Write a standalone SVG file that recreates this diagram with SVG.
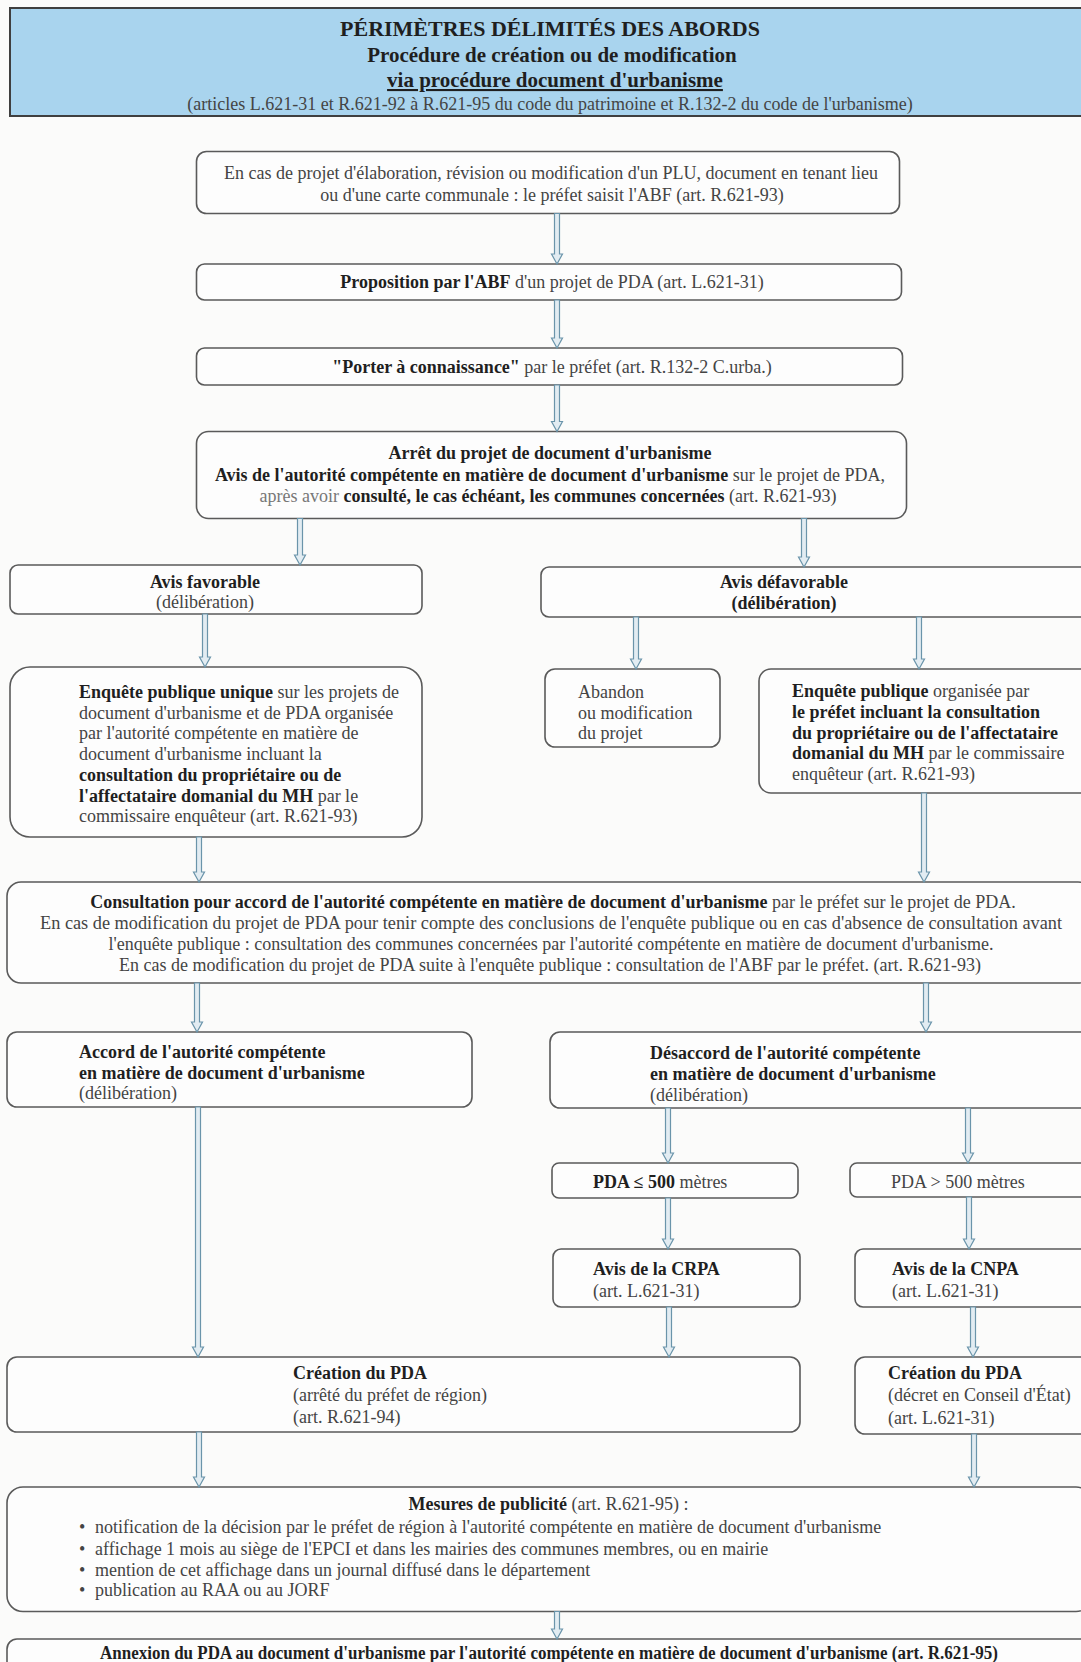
<svg xmlns="http://www.w3.org/2000/svg" width="1081" height="1662" viewBox="0 0 1081 1662">
<defs>
<style>
.bg{fill:#fbfbfa}
.box{fill:#fdfdfd;stroke:#5a5a5a;stroke-width:1.6}
.hdr{fill:#a9d4ee;stroke:#3f3f3f;stroke-width:2}
.t{font-family:"Liberation Serif","Times New Roman",serif;font-size:18px;fill:#444}
.b{font-weight:bold;fill:#1f1f1f}
.c{text-anchor:middle}
.h1{font-size:22px}
.h2{font-size:21px}
.arr{fill:#e2ecf2;stroke:#6a94aa;stroke-width:1.2}
</style>
</defs>
<rect class="bg" x="0" y="0" width="1081" height="1662"/>

<g id="header">
<rect class="hdr" x="10" y="8" width="1085" height="108"/>
<text class="t b c h1" x="550" y="36">PÉRIMÈTRES DÉLIMITÉS DES ABORDS</text>
<text class="t b c h2" x="552" y="62">Procédure de création ou de modification</text>
<text class="t b c h2" x="555" y="87" text-decoration="underline">via procédure document d'urbanisme</text>
<text class="t c" x="550" y="110">(articles L.621-31 et R.621-92 à R.621-95 du code du patrimoine et R.132-2 du code de l'urbanisme)</text>
</g>

<g id="saisine">
<rect class="box" x="196.5" y="151.5" width="703" height="62" rx="10"/>
<text class="t c" x="551" y="179">En cas de projet d'élaboration, révision ou modification d'un PLU, document en tenant lieu</text>
<text class="t c" x="552" y="201">ou d'une carte communale : le préfet saisit l'ABF (art. R.621-93)</text>
</g>

<g id="proposition">
<rect class="box" x="196.5" y="264" width="705" height="36" rx="8"/>
<text class="t c" x="552" y="288"><tspan class="b">Proposition par l'ABF</tspan> d'un projet de PDA (art. L.621-31)</text>
</g>

<g id="porter">
<rect class="box" x="196.5" y="348" width="706" height="37" rx="8"/>
<text class="t c" x="552" y="373"><tspan class="b">"Porter à connaissance"</tspan> par le préfet (art. R.132-2 C.urba.)</text>
</g>

<g id="arret">
<rect class="box" x="196.5" y="431.5" width="710" height="87" rx="12"/>
<text class="t b c" x="550" y="459">Arrêt du projet de document d'urbanisme</text>
<text class="t c" x="550" y="481"><tspan class="b">Avis de l'autorité compétente en matière de document d'urbanisme</tspan> sur le projet de PDA,</text>
<text class="t c" x="548" y="502"><tspan fill="#777">après avoir </tspan><tspan class="b">consulté, le cas échéant, les communes concernées</tspan> (art. R.621-93)</text>
</g>

<g id="avis-favorable">
<rect class="box" x="10" y="565" width="412" height="49" rx="8"/>
<text class="t b c" x="205" y="588">Avis favorable</text>
<text class="t c" x="205" y="608">(délibération)</text>
</g>

<g id="avis-defavorable">
<rect class="box" x="541" y="567" width="550" height="50" rx="8"/>
<text class="t b c" x="784" y="588">Avis défavorable</text>
<text class="t b c" x="784" y="609">(délibération)</text>
</g>

<g id="enquete-unique">
<rect class="box" x="10" y="667" width="412" height="170" rx="20"/>
<text class="t" x="79" y="698"><tspan class="b">Enquête publique unique</tspan> sur les projets de</text>
<text class="t" x="79" y="718.7">document d'urbanisme et de PDA organisée</text>
<text class="t" x="79" y="739.4">par l'autorité compétente en matière de</text>
<text class="t" x="79" y="760">document d'urbanisme incluant la</text>
<text class="t b" x="79" y="780.8">consultation du propriétaire ou de</text>
<text class="t" x="79" y="801.5"><tspan class="b">l'affectataire domanial du MH</tspan> par le</text>
<text class="t" x="79" y="822.2">commissaire enquêteur (art. R.621-93)</text>
</g>

<g id="abandon">
<rect class="box" x="545" y="669" width="175" height="78" rx="10"/>
<text class="t" x="578" y="698">Abandon</text>
<text class="t" x="578" y="718.5">ou modification</text>
<text class="t" x="578" y="739">du projet</text>
</g>

<g id="enquete-prefet">
<rect class="box" x="759" y="669" width="335" height="124" rx="12"/>
<text class="t" x="792" y="697"><tspan class="b">Enquête publique</tspan> organisée par</text>
<text class="t b" x="792" y="718">le préfet incluant la consultation</text>
<text class="t b" x="792" y="738.7">du propriétaire ou de l'affectataire</text>
<text class="t" x="792" y="759.4"><tspan class="b">domanial du MH</tspan> par le commissaire</text>
<text class="t" x="792" y="780">enquêteur (art. R.621-93)</text>
</g>

<g id="consultation">
<rect class="box" x="7" y="882" width="1085" height="101" rx="14"/>
<text class="t c" x="553" y="908"><tspan class="b">Consultation pour accord de l'autorité compétente en matière de document d'urbanisme</tspan> par le préfet sur le projet de PDA.</text>
<text class="t c" x="551" y="929" textLength="1022" lengthAdjust="spacingAndGlyphs">En cas de modification du projet de PDA pour tenir compte des conclusions de l'enquête publique ou en cas d'absence de consultation avant</text>
<text class="t c" x="551" y="950">l'enquête publique : consultation des communes concernées par l'autorité compétente en matière de document d'urbanisme.</text>
<text class="t c" x="550" y="971">En cas de modification du projet de PDA suite à l'enquête publique : consultation de l'ABF par le préfet. (art. R.621-93)</text>
</g>

<g id="accord">
<rect class="box" x="7" y="1032" width="465" height="75" rx="10"/>
<text class="t b" x="79" y="1058">Accord de l'autorité compétente</text>
<text class="t b" x="79" y="1078.5">en matière de document d'urbanisme</text>
<text class="t" x="79" y="1099">(délibération)</text>
</g>

<g id="desaccord">
<rect class="box" x="550" y="1032" width="545" height="76" rx="10"/>
<text class="t b" x="650" y="1058.5">Désaccord de l'autorité compétente</text>
<text class="t b" x="650" y="1079.5">en matière de document d'urbanisme</text>
<text class="t" x="650" y="1100.5">(délibération)</text>
</g>

<g id="pda-inf-500">
<rect class="box" x="552" y="1163" width="246" height="35" rx="7"/>
<text class="t" x="593" y="1188"><tspan class="b">PDA ≤ 500</tspan> mètres</text>
</g>

<g id="pda-sup-500">
<rect class="box" x="850" y="1163" width="245" height="34" rx="7"/>
<text class="t" x="891" y="1188" fill="#666">PDA &gt; 500 mètres</text>
</g>

<g id="avis-crpa">
<rect class="box" x="553" y="1249" width="247" height="58" rx="8"/>
<text class="t b" x="593" y="1275">Avis de la CRPA</text>
<text class="t" x="593" y="1297">(art. L.621-31)</text>
</g>

<g id="avis-cnpa">
<rect class="box" x="855" y="1249" width="240" height="58" rx="8"/>
<text class="t b" x="892" y="1275">Avis de la CNPA</text>
<text class="t" x="892" y="1297">(art. L.621-31)</text>
</g>

<g id="creation-region">
<rect class="box" x="7" y="1357" width="793" height="75" rx="10"/>
<text class="t b" x="293" y="1379">Création du PDA</text>
<text class="t" x="293" y="1401">(arrêté du préfet de région)</text>
<text class="t" x="293" y="1423">(art. R.621-94)</text>
</g>

<g id="creation-etat">
<rect class="box" x="855" y="1357" width="240" height="77" rx="10"/>
<text class="t b" x="888" y="1379">Création du PDA</text>
<text class="t" x="888" y="1401">(décret en Conseil d'État)</text>
<text class="t" x="888" y="1424">(art. L.621-31)</text>
</g>

<g id="publicite">
<rect class="box" x="7" y="1487" width="1085" height="124.5" rx="16"/>
<text class="t c" x="548.5" y="1509.5"><tspan class="b">Mesures de publicité</tspan> (art. R.621-95) :</text>
<text class="t" x="79" y="1533">•</text>
<text class="t" x="95" y="1533">notification de la décision par le préfet de région à l'autorité compétente en matière de document d'urbanisme</text>
<text class="t" x="79" y="1554.5">•</text>
<text class="t" x="95" y="1554.5">affichage 1 mois au siège de l'EPCI et dans les mairies des communes membres, ou en mairie</text>
<text class="t" x="79" y="1575.5">•</text>
<text class="t" x="95" y="1575.5">mention de cet affichage dans un journal diffusé dans le département</text>
<text class="t" x="79" y="1596">•</text>
<text class="t" x="95" y="1596">publication au RAA ou au JORF</text>
</g>

<g id="annexion">
<rect class="box" x="7" y="1639" width="1085" height="45" rx="10"/>
<text class="t b c" x="549" y="1659" textLength="898" lengthAdjust="spacingAndGlyphs">Annexion du PDA au document d'urbanisme par l'autorité compétente en matière de document d'urbanisme (art. R.621-95)</text>
</g>

<g id="connectors">
<path class="arr" d="M554.5 213.5 V254 H551.5 L557 264 L562.5 254 H559.5 V213.5 Z"/>
<path class="arr" d="M554.5 300 V338 H551.5 L557 348 L562.5 338 H559.5 V300 Z"/>
<path class="arr" d="M554.5 385 V421.5 H551.5 L557 431.5 L562.5 421.5 H559.5 V385 Z"/>
<path class="arr" d="M297.5 518.5 V555 H294.5 L300 565 L305.5 555 H302.5 V518.5 Z"/>
<path class="arr" d="M801.5 518.5 V557 H798.5 L804 567 L809.5 557 H806.5 V518.5 Z"/>
<path class="arr" d="M202.5 614 V657 H199.5 L205 667 L210.5 657 H207.5 V614 Z"/>
<path class="arr" d="M633.5 617 V659 H630.5 L636 669 L641.5 659 H638.5 V617 Z"/>
<path class="arr" d="M916.5 617 V659 H913.5 L919 669 L924.5 659 H921.5 V617 Z"/>
<path class="arr" d="M196.5 837 V872 H193.5 L199 882 L204.5 872 H201.5 V837 Z"/>
<path class="arr" d="M921.5 793 V872 H918.5 L924 882 L929.5 872 H926.5 V793 Z"/>
<path class="arr" d="M194.5 983 V1022 H191.5 L197 1032 L202.5 1022 H199.5 V983 Z"/>
<path class="arr" d="M923.5 983 V1022 H920.5 L926 1032 L931.5 1022 H928.5 V983 Z"/>
<path class="arr" d="M195.5 1107 V1347 H192.5 L198 1357 L203.5 1347 H200.5 V1107 Z"/>
<path class="arr" d="M665.5 1108 V1153 H662.5 L668 1163 L673.5 1153 H670.5 V1108 Z"/>
<path class="arr" d="M965.5 1108 V1153 H962.5 L968 1163 L973.5 1153 H970.5 V1108 Z"/>
<path class="arr" d="M665.5 1198 V1239 H662.5 L668 1249 L673.5 1239 H670.5 V1198 Z"/>
<path class="arr" d="M966.5 1197 V1239 H963.5 L969 1249 L974.5 1239 H971.5 V1197 Z"/>
<path class="arr" d="M666.5 1307 V1347 H663.5 L669 1357 L674.5 1347 H671.5 V1307 Z"/>
<path class="arr" d="M970.5 1307 V1347 H967.5 L973 1357 L978.5 1347 H975.5 V1307 Z"/>
<path class="arr" d="M196.5 1432 V1477 H193.5 L199 1487 L204.5 1477 H201.5 V1432 Z"/>
<path class="arr" d="M971.5 1434 V1477 H968.5 L974 1487 L979.5 1477 H976.5 V1434 Z"/>
<path class="arr" d="M554.5 1611.5 V1629 H551.5 L557 1639 L562.5 1629 H559.5 V1611.5 Z"/>
</g>
</svg>
